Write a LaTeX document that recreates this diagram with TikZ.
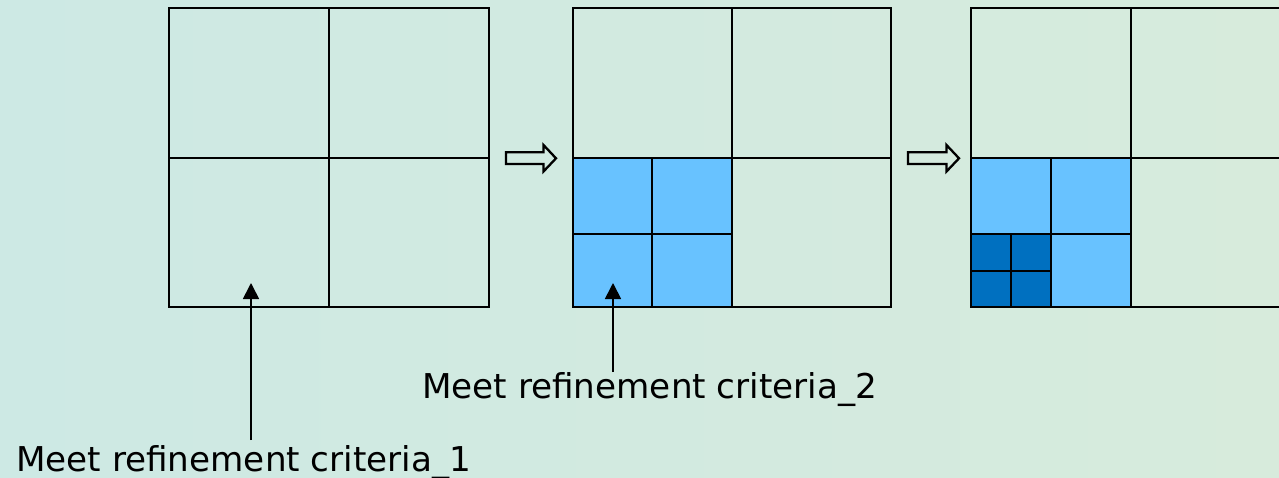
\documentclass[tikz,border=0pt]{standalone}
\usepackage{fontspec}
\setmainfont{DejaVu Sans}
\usetikzlibrary{arrows.meta}
\definecolor{bgl}{RGB}{205,233,228}
\definecolor{bgr}{RGB}{215,235,220}
\definecolor{lblue}{RGB}{104,194,255}
\definecolor{dblue}{RGB}{0,112,192}
\tikzset{
  gridline/.style={line width=2.3pt, line cap=rect},
  blockarrow/.style={line width=2.3pt, line join=miter},
  pointer/.style={line width=1.7pt, -{Triangle[width=16pt,length=16pt]}},
  label/.style={font=\fontsize{34.2pt}{40pt}\selectfont, inner sep=0pt, anchor=base west}
}
\newcommand{\blockarr}[2]{% left x, tip x
  \draw[blockarrow] (#1,152.3) -- (#2-12.5,152.3) -- (#2-12.5,145) -- (#2,158.3)
    -- (#2-12.5,171.5) -- (#2-12.5,164) -- (#1,164) -- cycle;}
\begin{document}
\begin{tikzpicture}[x=1pt,y=-1pt]
\useasboundingbox (0,0) rectangle (1279,477);
\shade[left color=bgl, right color=bgr] (0,0) rectangle (1279,477);
\clip (0,0) rectangle (1279,477);
% grid 1
\draw[gridline] (169,8) rectangle (489,307);
\draw[gridline] (329,8) -- (329,307) (169,158) -- (489,158);
% grid 2
\fill[lblue] (573,158) rectangle (732,307);
\draw[gridline] (573,8) rectangle (891,307);
\draw[gridline] (732,8) -- (732,307) (573,158) -- (891,158);
\draw[gridline] (652,158) -- (652,307) (573,234) -- (732,234);
% grid 3
\fill[lblue] (971,158) rectangle (1131,307);
\fill[dblue] (971,234) rectangle (1051,307);
\draw[gridline] (971,8) rectangle (1295,307);
\draw[gridline] (1131,8) -- (1131,307) (971,158) -- (1295,158);
\draw[gridline] (1051,158) -- (1051,307) (971,234) -- (1131,234);
\draw[gridline] (1011,234) -- (1011,307) (971,271) -- (1051,271);
% block arrows
\blockarr{506}{556}
\blockarr{908}{959}
% labels
\node[label] (t1) at (16,471) {Meet refinement criteria\_1};
\node[label] (t2) at (422,398) {Meet refinement criteria\_2};
\coordinate (p1) at (251,283);
\coordinate (p2) at (613,283);
\coordinate (s1) at (251,440);
\coordinate (s2) at (613,372);
\draw[pointer] (s1) -- (p1);
\draw[pointer] (s2) -- (p2);
\end{tikzpicture}
\end{document}
